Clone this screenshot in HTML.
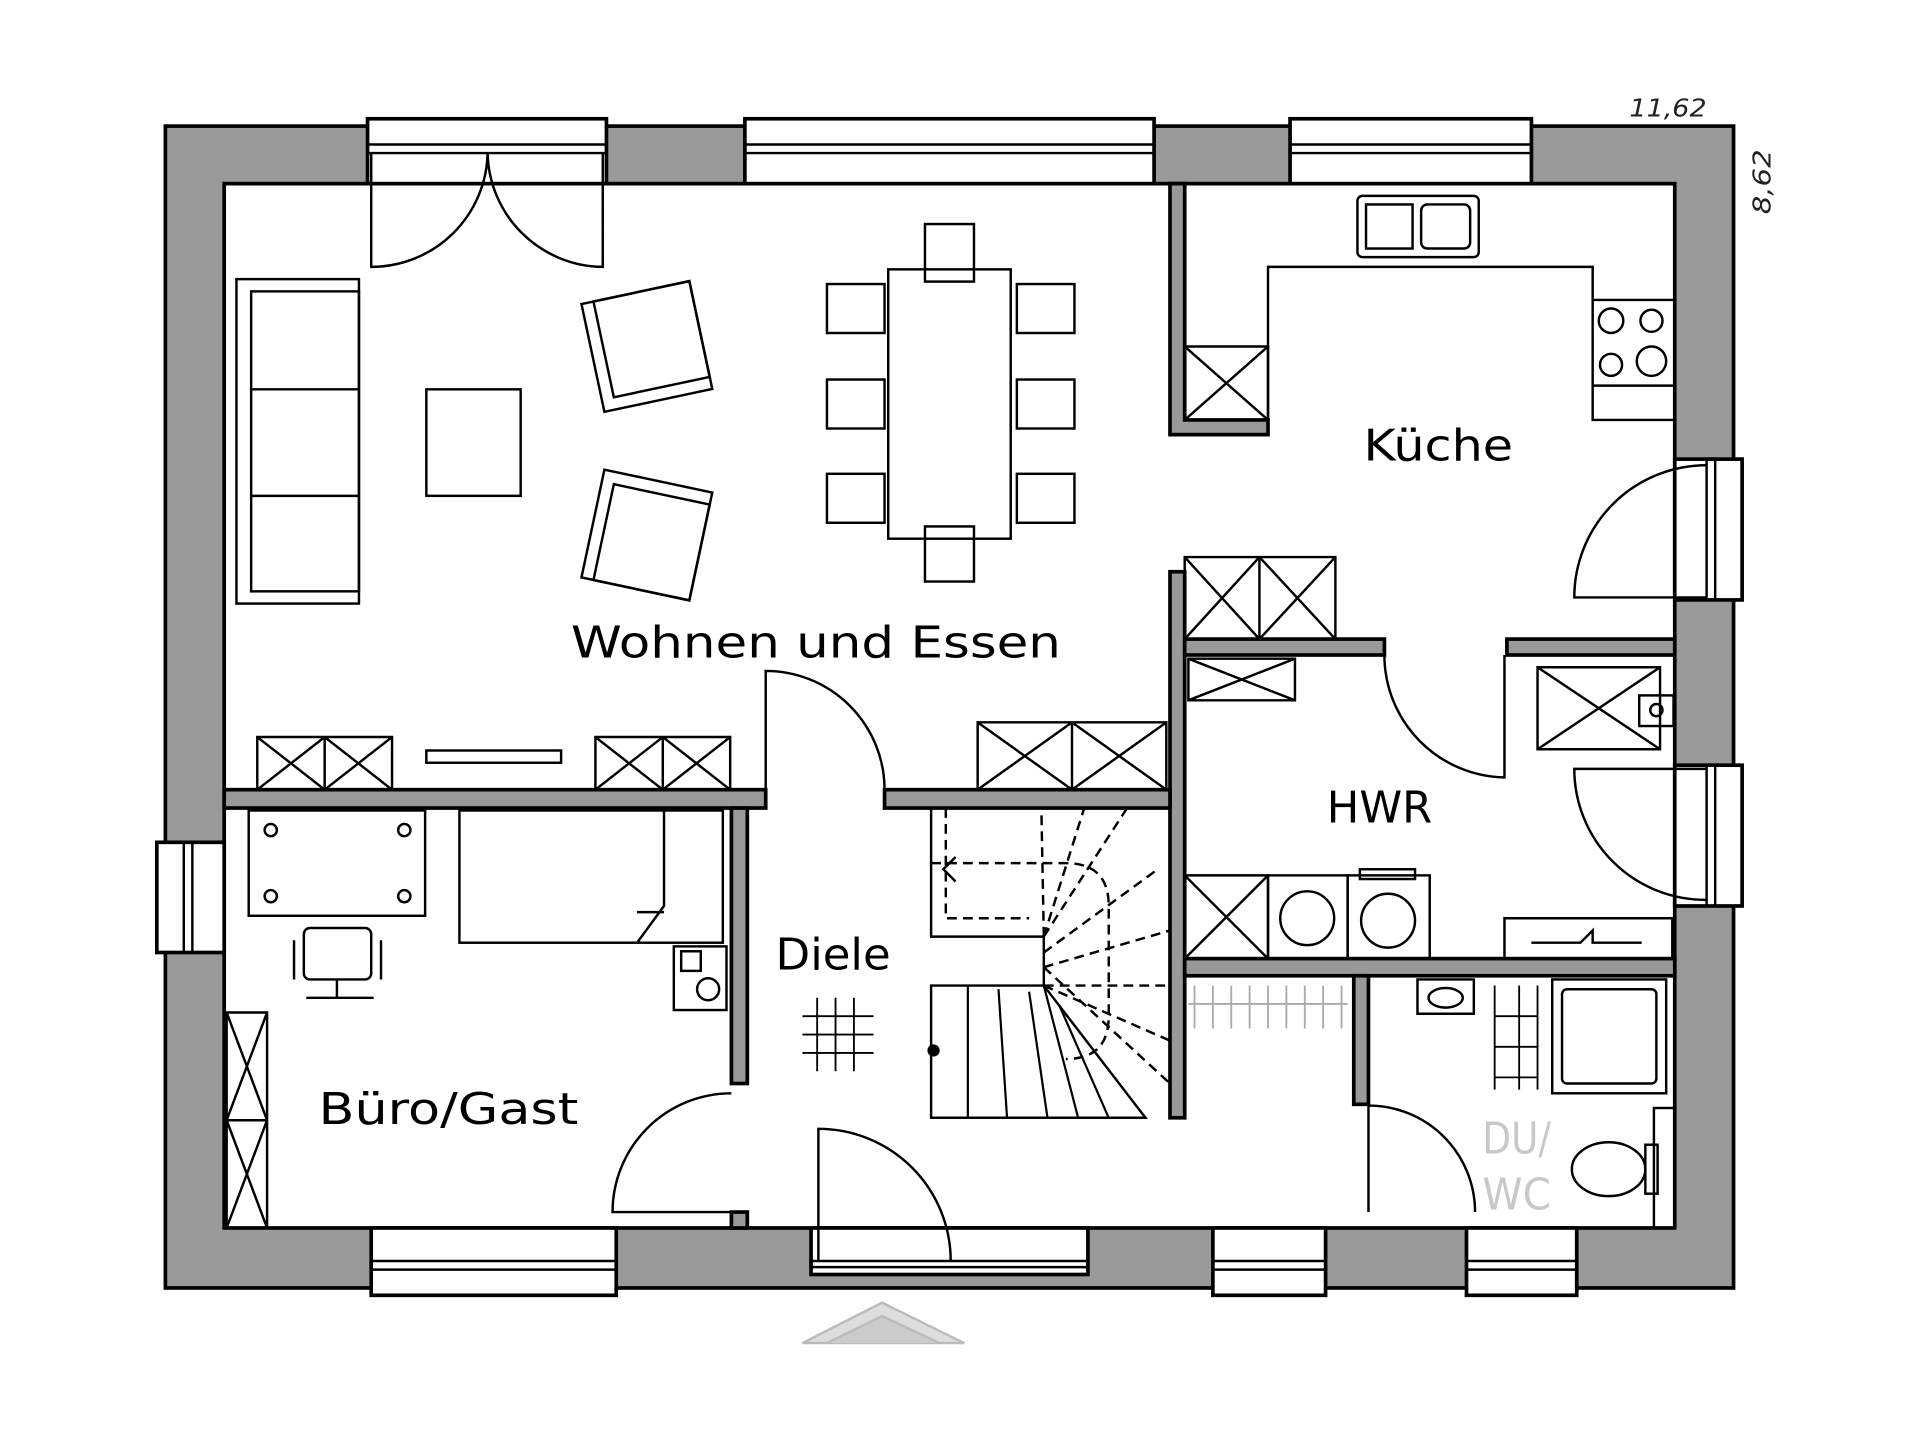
<!DOCTYPE html>
<html><head><meta charset="utf-8"><style>html,body{margin:0;padding:0;background:#fff}svg{display:block}</style></head>
<body>
<svg width="1921" height="1441" viewBox="0 0 1568 1177" preserveAspectRatio="none" xmlns="http://www.w3.org/2000/svg" font-family="DejaVu Sans, Liberation Sans, sans-serif">
<rect width="1568" height="1177" fill="#fff"/>
<g stroke="#000" stroke-width="3">
<rect x="135" y="103" width="1280" height="949" fill="#999"/>
<rect x="183" y="150" width="1184" height="853" fill="#fff"/>
<g fill="#999">
<path d="M955,150 H967 V343 H1035 V355 H955 Z"/>
<rect x="955" y="467" width="12" height="446"/>
<rect x="967" y="522" width="163" height="13"/>
<rect x="1230" y="522" width="137" height="13"/>
<rect x="183" y="645" width="442" height="15"/>
<rect x="722" y="645" width="233" height="15"/>
<rect x="597" y="660" width="13" height="225"/>
<rect x="597" y="990" width="13" height="13"/>
<rect x="967" y="783" width="400" height="14"/>
<rect x="1105" y="797" width="12" height="105"/>
</g>
<g fill="#fff">
<rect x="300" y="97" width="195" height="53"/><rect x="608" y="97" width="334" height="53"/><rect x="1053" y="97" width="197" height="53"/>
<rect x="303" y="1003" width="200" height="55"/><rect x="662" y="1003" width="226" height="38"/><rect x="990" y="1003" width="92" height="55"/><rect x="1197" y="1003" width="90" height="55"/>
<rect x="128" y="688" width="55" height="90"/>
<rect x="1367" y="375" width="55" height="115"/><rect x="1367" y="625" width="55" height="115"/>
</g>
</g>
<g stroke="#000" stroke-width="2" fill="none">
<path d="M300,118 H495 M300,125 H495 M608,118 H942 M608,125 H942 M1053,118 H1250 M1053,125 H1250"/>
<path d="M303,1030 H503 M303,1037 H503 M990,1030 H1082 M990,1037 H1082 M1197,1030 H1287 M1197,1037 H1287 M662,1030 H888 M662,1035 H888"/>
<path d="M150,688 V778 M157,688 V778 M1393,375 V490 M1400,375 V490 M1393,625 V740 M1400,625 V740"/>
<path d="M303,125 V218 A95,95 0 0 0 398,125 M492,125 V218 A95,95 0 0 1 398,125"/>
<path d="M1393,488 H1285 A108,108 0 0 1 1393,380"/>
<path d="M1393,628 H1285 A107,107 0 0 0 1393,735"/>
<path d="M1228,535 V635 A100,100 0 0 1 1130,535"/>
<path d="M625,645 V548 A97,97 0 0 1 722,645"/>
<path d="M597,990 H500 A97,97 0 0 1 597,893"/>
<path d="M668,1030 V922 A108,108 0 0 1 776,1030"/>
<path d="M1117,990 V903 A87,87 0 0 1 1204,990"/>
<rect x="193" y="228" width="100" height="265"/><rect x="205" y="238" width="88" height="245"/>
<path d="M205,318 H293 M205,405 H293"/>
<rect x="348" y="318" width="77" height="87"/>
<g transform="rotate(-12 528 283)"><rect x="483" y="238" width="90" height="90"/><rect x="493" y="238" width="80" height="80"/></g>
<g transform="rotate(12 528 437)"><rect x="483" y="392" width="90" height="90"/><rect x="493" y="402" width="80" height="80"/></g>
<rect x="725" y="220" width="100" height="220"/>
<rect x="755" y="183" width="40" height="47"/><rect x="755" y="430" width="40" height="45"/>
<rect x="675" y="232" width="47" height="40"/><rect x="675" y="310" width="47" height="40"/><rect x="675" y="387" width="47" height="40"/>
<rect x="830" y="232" width="47" height="40"/><rect x="830" y="310" width="47" height="40"/><rect x="830" y="387" width="47" height="40"/>
<path d="M210,602 H320 V645 H210 Z M265,602 V645 M210,602 L265,645 M265,602 L210,645 M265,602 L320,645 M320,602 L265,645"/>
<path d="M486,602 H596 V645 H486 Z M541,602 V645 M486,602 L541,645 M541,602 L486,645 M541,602 L596,645 M596,602 L541,645"/>
<rect x="348" y="613" width="110" height="10"/>
<path d="M798,590 H952 V645 H798 Z M875,590 V645 M798,590 L875,645 M875,590 L798,645 M875,590 L952,645 M952,590 L875,645"/>
<rect x="1108" y="160" width="99" height="50" rx="4"/><rect x="1115" y="167" width="38" height="36"/><rect x="1160" y="167" width="40" height="36" rx="5"/>
<path d="M1035,343 V218 H1300 V343 H1367 M1300,245 H1367 M1300,315 H1367"/>
<circle cx="1315" cy="262" r="10"/><circle cx="1348" cy="262" r="9"/><circle cx="1315" cy="298" r="9"/><circle cx="1348" cy="295" r="12"/>
<path d="M967,283 H1035 V343 H967 Z M967,283 L1035,343 M1035,283 L967,343"/>
<path d="M967,455 H1090 V522 H967 Z M1028,455 V522 M967,455 L1028,522 M1028,455 L967,522 M1028,455 L1090,522 M1090,455 L1028,522"/>
<path d="M970,538 H1057 V572 H970 Z M970,538 L1057,572 M1057,538 L970,572"/>
<path d="M1255,545 H1355 V612 H1255 Z M1255,545 L1355,612 M1355,545 L1255,612"/>
<rect x="1338" y="568" width="28" height="25"/><circle cx="1352" cy="580" r="5"/>
<path d="M967,715 H1035 V783 H967 Z M967,715 L1035,783 M1035,715 L967,783"/>
<rect x="1035" y="715" width="65" height="68"/><circle cx="1067" cy="750" r="22"/>
<rect x="1100" y="715" width="67" height="68"/><rect x="1110" y="710" width="45" height="8"/><circle cx="1133" cy="752" r="22"/>
<path d="M1228,750 H1365 V783 H1228 Z M1250,770 H1290 L1300,760 V770 H1340"/>
<rect x="203" y="662" width="144" height="86"/>
<circle cx="221" cy="678" r="5"/><circle cx="330" cy="678" r="5"/><circle cx="221" cy="732" r="5"/><circle cx="330" cy="732" r="5"/>
<rect x="375" y="662" width="215" height="108"/><path d="M542,662 V740 L520,770 M520,745 H542"/>
<rect x="248" y="758" width="55" height="42" rx="5"/><path d="M240,768 V800 M311,768 V800 M250,815 H305 M275,800 V815"/>
<path d="M185,827 H218 V1003 H185 Z M185,827 L218,915 M218,827 L185,915 M185,915 L218,1003 M218,915 L185,1003 M185,915 H218"/>
<rect x="550" y="773" width="43" height="52"/><rect x="556" y="777" width="16" height="16"/><circle cx="578" cy="808" r="9"/>
<path d="M655,830 H713 M655,845 H713 M655,860 H713 M667,815 V875 M682,815 V875 M697,815 V875" stroke-width="1.5"/>
<path d="M760,805 H852 L935,913 H760 Z"/>
<path d="M790,805 V913 M815,808 L822,913 M840,810 L855,913 M852,805 L880,913 M865,822 L905,913" stroke-width="1.8"/>
<circle cx="762" cy="858" r="4" fill="#000"/>
<path d="M760,660 V765 H852 V805" />
<g stroke-dasharray="8,5">
<path d="M772,660 V750 H840 M852,805 L955,805 M852,805 L955,850 M852,790 L955,760 M852,778 L945,710 M852,765 L920,660 M852,765 L885,660 M852,765 L850,660 M852,790 L955,885"/>
<path d="M760,705 H870 Q905,705 905,740 V830 Q905,865 870,865"/>
</g>
<path d="M780,700 L770,710 L780,720"/>
<rect x="1267" y="800" width="93" height="93"/><rect x="1275" y="808" width="77" height="77" rx="4"/>
<path d="M1157,800 H1203 V828 H1157 Z"/><ellipse cx="1180" cy="815" rx="14" ry="8"/>
<rect x="1350" y="905" width="17" height="98"/><ellipse cx="1313" cy="955" rx="30" ry="22"/><rect x="1343" y="935" width="10" height="40"/>
<path d="M1220,805 V890 M1240,805 V890 M1255,805 V890 M1220,830 H1255 M1220,855 H1255 M1220,880 H1255" stroke-width="1.5"/>
<path d="M975,805 V840 M990,805 V840 M1005,805 V840 M1020,805 V840 M1035,805 V840 M1050,805 V840 M1065,805 V840 M1080,805 V840 M1095,805 V840 M970,820 H1100" stroke="#aaa" stroke-width="1.5"/>
</g>
<path d="M655,1097 L720,1064 L787,1097 Z" fill="#ddd" stroke="#bbb" stroke-width="2"/>
<path d="M675,1097 L720,1075 L767,1097" fill="#ccc" stroke="#bbb" stroke-width="2"/>
<g font-size="36" fill="#000">
<text x="466" y="537" textLength="400" lengthAdjust="spacingAndGlyphs">Wohnen und Essen</text>
<text x="1113" y="376" textLength="122" lengthAdjust="spacingAndGlyphs">Küche</text>
<text x="1083" y="672" textLength="86" lengthAdjust="spacingAndGlyphs">HWR</text>
<text x="633" y="792" textLength="94" lengthAdjust="spacingAndGlyphs">Diele</text>
<text x="260" y="918" textLength="212" lengthAdjust="spacingAndGlyphs">Büro/Gast</text>
<text x="1210" y="942" fill="#c8c8c8" textLength="56" lengthAdjust="spacingAndGlyphs">DU/</text>
<text x="1210" y="988" fill="#c8c8c8" textLength="56" lengthAdjust="spacingAndGlyphs">WC</text>
</g>
<text x="1330" y="95" font-size="20" font-style="italic" fill="#222" textLength="63" lengthAdjust="spacingAndGlyphs">11,62</text>
<text transform="translate(1445,175) rotate(-90)" font-size="20" font-style="italic" fill="#222" textLength="53" lengthAdjust="spacingAndGlyphs">8,62</text>
</svg>
</body></html>
